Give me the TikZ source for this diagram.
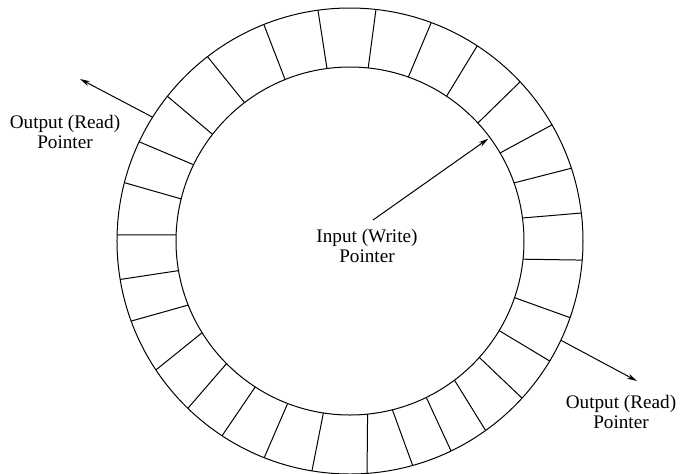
\documentclass[tikz,border=0pt]{standalone}
\usepackage{fontspec}
\setmainfont{Liberation Serif}
\usetikzlibrary{arrows.meta,positioning}
\begin{document}
\begin{tikzpicture}[x=0.5pt,y=0.5pt,line width=0.5pt,
  ptr/.style={-{Stealth[length=5pt,width=2.6pt]}},
  lbl/.style={align=center,inner sep=0pt,font=\fontsize{9.6}{10}\selectfont}]
  \useasboundingbox (-350,-232) rectangle (330,241);
  \clip (-350,-232) rectangle (330,241);
  \draw (0,0) circle (174);
  \draw (0,0) circle (233);
  \foreach \inner/\outer in {7.6/6.9,19.5/18.2,30.4/29.9,42.7/43.1,56.3/56.9,
      70.4/69.6,84/83.6,97.6/97.9,111.9/111.7,127.3/127.7,142.2/141.6,
      154/154.8,166/165.5,178/178.5,189.8/189.5,201.6/200.1,211.8/213.6,
      224.8/225.9,237/236.7,249/248.4,261.2/260.6,275.8/274.2,284.1/285.6,
      296/295.7,306.9/305.6,318/317.6,329/329,341/340.8,354/355.3}
    \draw (\inner:174)--(\outer:233);
  % write pointer
  \node[lbl] (writelabel) at (17,-5) {Input (Write)\\Pointer};
  \coordinate (writetail) at (23,21);
  \coordinate (writetip) at (36.5:172);
  \draw[ptr] (writetail)--(writetip);
  % read pointers
  \coordinate (readtailA) at (147.9:233);
  \coordinate (readtipA) at (-270,162);
  \node[lbl] (readlabelA) at (-285,109) {Output (Read)\\Pointer};
  \draw[ptr] (readtailA)--(readtipA);
  \coordinate (readtailB) at (-25.2:233);
  \coordinate (readtipB) at (287,-140);
  \node[lbl] (readlabelB) at (271,-171) {Output (Read)\\Pointer};
  \draw[ptr] (readtailB)--(readtipB);
\end{tikzpicture}
\end{document}
